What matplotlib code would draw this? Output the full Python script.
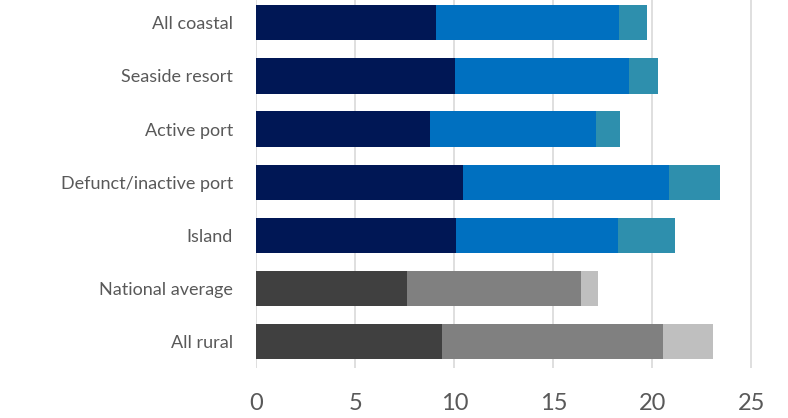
import matplotlib.pyplot as plt
import numpy as np

# data
categories = ['All coastal', 'Seaside resort', 'Active port', 'Defunct/inactive port',
              'Island', 'National average', 'All rural']
seg1 = [9.06, 10.03, 8.77, 10.43, 10.07, 7.62, 9.39]
seg2 = [9.25, 8.80, 8.40, 10.43, 8.17, 8.78, 11.14]
seg3 = [1.41, 1.46, 1.20, 2.54, 2.88, 0.84, 2.52]
xticks = [0, 5, 10, 15, 20, 25]

# colours: coastal rows in blues, benchmark rows in greys
blues = ['#001755', '#0070C0', '#2E8FAD']
greys = ['#404040', '#808080', '#BFBFBF']
n_coastal = 5

plt.rcParams['font.family'] = ['Lato', 'DejaVu Sans']
fig = plt.figure(figsize=(7.88, 4.18), dpi=100)
ax = fig.add_axes([0.3255, 0.119, 0.6293, 0.8903])

y = np.arange(len(categories))
s1 = np.array(seg1)
s2 = np.array(seg2)
s3 = np.array(seg3)
for i in range(len(categories)):
    cols = blues if i < n_coastal else greys
    ax.barh(y[i], s1[i], height=0.664, color=cols[0], zorder=3)
    ax.barh(y[i], s2[i], left=s1[i], height=0.664, color=cols[1], zorder=3)
    ax.barh(y[i], s3[i], left=s1[i] + s2[i], height=0.664, color=cols[2], zorder=3)

ax.set_ylim(len(categories) - 0.5, -0.5)
ax.set_xlim(0, 25.05)
ax.set_yticks(y)
ax.set_yticklabels(categories)
ax.set_xticks(xticks)
ax.set_xticklabels([str(v) for v in xticks])

ax.grid(axis='x', color='#D9D9D9', linewidth=1.2, zorder=0)
for s in ax.spines.values():
    s.set_visible(False)
ax.tick_params(axis='y', length=0, pad=17, labelsize=13, labelcolor='#595959')
ax.tick_params(axis='x', length=0, pad=18, labelsize=17, labelcolor='#595959')

fig.savefig('out.png', dpi=100)
